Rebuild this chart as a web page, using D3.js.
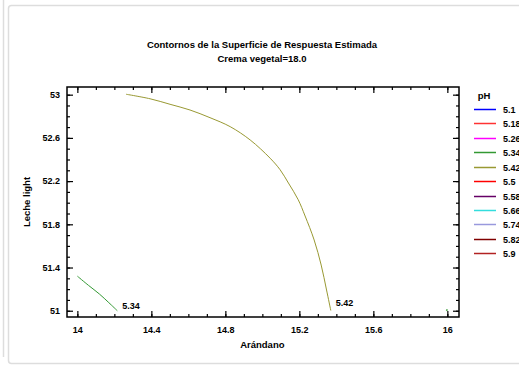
<!DOCTYPE html>
<html lang="en">
<head>
<meta charset="utf-8">
<title>Contornos de la Superficie de Respuesta Estimada</title>
<script src="https://d3js.org/d3.v7.min.js"></script>
<style>
  html, body { margin: 0; background: #fff; }
  svg { font-family: 'Liberation Sans', Arial, sans-serif; font-weight: bold; }
  .tick text { font-size: 9px; }
</style>
</head>
<body>
<div id="vis"></div>
<script>
// contour levels shown in the legend
var levels = ["5.1", "5.18", "5.26", "5.34", "5.42", "5.5", "5.58", "5.66", "5.74", "5.82", "5.9"];
var levelColors = ["#0000ff", "#ff3333", "#ff00ff", "#339933", "#999933", "#ff0000", "#660066", "#33dddd", "#9999dd", "#800000", "#b22222"];

// contour traces (Arándano, Leche light)
var contour534 = [[14.0, 51.32], [14.06, 51.235], [14.119, 51.155], [14.17, 51.075], [14.216, 51.0]];
var contour534b = [[15.995, 51.0], [16.0, 51.012]];
var contour542 = [
  [14.263, 53.004], [14.393, 52.962], [14.501, 52.911], [14.609, 52.858], [14.717, 52.787],
  [14.826, 52.704], [14.934, 52.581], [15.042, 52.412], [15.096, 52.305], [15.141, 52.182],
  [15.194, 52.027], [15.231, 51.877], [15.28, 51.655], [15.318, 51.423], [15.347, 51.192],
  [15.37, 51.002]
];

var xTicks = [14, 14.4, 14.8, 15.2, 15.6, 16];
var yTicks = [51, 51.4, 51.8, 52.2, 52.6, 53];

var width = 519, height = 366;
var margin = { top: 87, right: 60, bottom: 49, left: 67 };
var w = width - margin.left - margin.right;
var h = height - margin.top - margin.bottom;

var svg = d3.select('#vis').append('svg')
  .attr('width', width)
  .attr('height', height);

// panel background
svg.append('line')
  .attr('x1', 3.5).attr('x2', 3.5).attr('y1', 0).attr('y2', 357)
  .attr('stroke', '#dddddd').attr('stroke-width', 1.5);
svg.append('rect')
  .attr('x', 8.5).attr('y', 5.5).attr('width', 530).attr('height', 358)
  .attr('rx', 3)
  .attr('fill', '#fff').attr('stroke', '#dddddd').attr('stroke-width', 1.5);

var g = svg.append('g')
  .attr('transform', 'translate(' + margin.left + ',' + margin.top + ')');

var x = d3.scaleLinear().domain([13.944, 16.063]).range([0, w]);
var y = d3.scaleLinear().domain([50.942, 53.071]).range([h, 0]);

var minorX = d3.range(14, 16.05, 0.1);
var minorY = d3.range(51, 53.05, 0.1);

// ticks on all four sides, pointing inward
function drawAxes() {
  g.append('g').attr('class', 'x axis')
    .attr('transform', 'translate(0,' + h + ')')
    .call(d3.axisBottom(x).tickValues(minorX).tickSize(-3).tickFormat(''));
  g.append('g')
    .call(d3.axisTop(x).tickValues(minorX).tickSize(-3).tickFormat(''));
  g.append('g')
    .call(d3.axisLeft(y).tickValues(minorY).tickSize(-3).tickFormat(''));
  g.append('g').attr('transform', 'translate(' + w + ',0)')
    .call(d3.axisRight(y).tickValues(minorY).tickSize(-3).tickFormat(''));

  g.append('g').attr('transform', 'translate(0,' + h + ')')
    .call(d3.axisBottom(x).tickValues(xTicks).tickSize(-6).tickPadding(10).tickFormat(d3.format('')));
  g.append('g')
    .call(d3.axisTop(x).tickValues(xTicks).tickSize(-6).tickFormat(''));
  g.append('g')
    .call(d3.axisLeft(y).tickValues(yTicks).tickSize(-6).tickPadding(7).tickFormat(d3.format('')));
  g.append('g').attr('transform', 'translate(' + w + ',0)')
    .call(d3.axisRight(y).tickValues(yTicks).tickSize(-6).tickFormat(''));

  g.selectAll('.domain').remove();
  g.selectAll('.tick line').attr('stroke', '#000').attr('stroke-width', 1.2);
  g.selectAll('.tick text').attr('fill', '#000').style('font-size', '9px');

  g.append('rect')
    .attr('width', w).attr('height', h)
    .attr('fill', 'none').attr('stroke', '#000').attr('stroke-width', 1.5);
}
drawAxes();

var line = d3.line()
  .x(function(d) { return x(d[0]); })
  .y(function(d) { return y(d[1]); })
  .curve(d3.curveCatmullRom);

g.append('path').datum(contour534).attr('d', line)
  .attr('fill', 'none').attr('stroke', levelColors[3]).attr('stroke-width', 1);
g.append('path').datum(contour534b).attr('d', line)
  .attr('fill', 'none').attr('stroke', levelColors[3]).attr('stroke-width', 1.5);
g.append('path').datum(contour542).attr('d', line)
  .attr('fill', 'none').attr('stroke', levelColors[4]).attr('stroke-width', 1);

// contour labels
g.append('text')
  .attr('x', x(contour534[contour534.length - 1][0]) + 5)
  .attr('y', y(51.0) - 2)
  .style('font-size', '9px')
  .text('5.34');
g.append('text')
  .attr('x', x(contour542[contour542.length - 1][0]) + 5)
  .attr('y', y(51.0) - 5)
  .style('font-size', '9px')
  .text('5.42');

// titles
svg.append('text')
  .attr('x', 262).attr('y', 48)
  .attr('text-anchor', 'middle')
  .style('font-size', '9.5px')
  .text('Contornos de la Superficie de Respuesta Estimada');
svg.append('text')
  .attr('x', 262).attr('y', 62)
  .attr('text-anchor', 'middle')
  .style('font-size', '9.5px')
  .text('Crema vegetal=18.0');

svg.append('text')
  .attr('x', margin.left + x(15)).attr('y', 348)
  .attr('text-anchor', 'middle')
  .style('font-size', '9.5px')
  .text('Arándano');
svg.append('text')
  .attr('transform', 'translate(30,' + (margin.top + h / 2) + ') rotate(-90)')
  .attr('text-anchor', 'middle')
  .style('font-size', '9.5px')
  .text('Leche light');

// legend
var legend = svg.append('g').attr('transform', 'translate(474,0)');
legend.append('text')
  .attr('x', 10).attr('y', 99)
  .attr('text-anchor', 'middle')
  .style('font-size', '9.5px')
  .text('pH');
var items = legend.selectAll('.item').data(levels).enter().append('g')
  .attr('class', 'item')
  .attr('transform', function(d, i) { return 'translate(0,' + (Math.round(109 + i * 14.43) + 0.5) + ')'; });
items.append('line')
  .attr('x1', 0).attr('x2', 22)
  .attr('stroke', function(d, i) { return levelColors[i]; })
  .attr('stroke-width', 1.5);
items.append('text')
  .attr('x', 29).attr('y', 3.5)
  .style('font-size', '9px')
  .text(function(d) { return d; });
</script>
</body>
</html>
